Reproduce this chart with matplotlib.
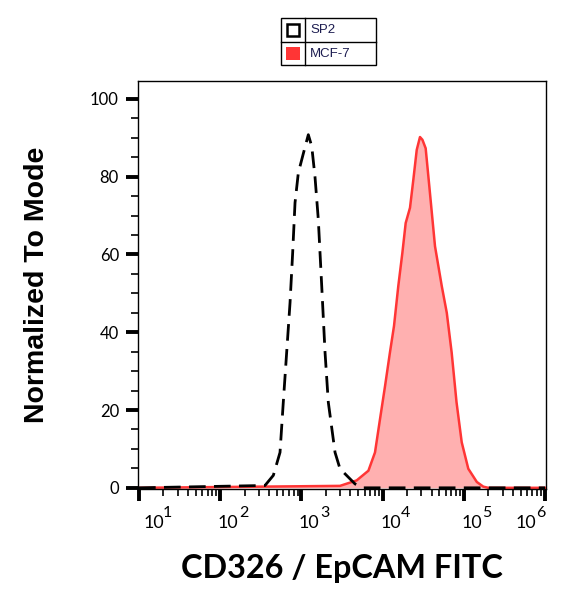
import matplotlib
matplotlib.use("Agg")
import matplotlib.pyplot as plt
import matplotlib.patches as mpatches
from matplotlib.ticker import MultipleLocator, LogLocator, NullFormatter

# histogram traces (x = fluorescence, y = % of mode)
sp2_x = [10, 356, 451, 545, 598, 658, 724, 780, 834, 916, 1057, 1216, 1340,
         1469, 1614, 1778, 1954, 2143, 2594, 2985, 4571, 5800, 1000000]
sp2_y = [0, 0.6, 3.2, 9.1, 22, 34.8, 47.6, 60.4, 73.3, 81, 86, 90.8, 87.8,
         80, 69, 51.9, 34.8, 22, 9.1, 4.9, 1.0, 0, 0]

mcf7_x = [10, 2985, 4786, 6683, 8054, 9290, 10715, 12303, 13804, 15596, 17498,
          19231, 21727, 23878, 26303, 28840, 30903, 33884, 37584, 44157, 53456,
          61660, 70795, 81283, 94189, 113501, 144544, 173780, 200000, 1000000]
mcf7_y = [0, 0.5, 1.9, 4.4, 9.1, 17.7, 26.2, 34.8, 41.6, 51.9, 60.4,
          68.1, 72, 79.2, 86.9, 90.2, 89.5, 87.3, 77.5, 62.1, 51.9,
          45, 34.8, 22, 11.7, 4.9, 1.5, 0.3, 0, 0]

series_names = ["SP2", "MCF-7"]
x_ticks = [1e1, 1e2, 1e3, 1e4, 1e5, 1e6]
x_tick_base = ["10", "10", "10", "10", "10", "10"]
x_tick_exp = ["1", "2", "3", "4", "5", "6"]
y_ticks = [0, 20, 40, 60, 80, 100]

fig = plt.figure(figsize=(5.66, 5.98), dpi=100)
ax = fig.add_axes([0.2433, 0.1823, 0.7214, 0.6822])

ax.fill_between(mcf7_x, mcf7_y, 0, color="#ffb0b0", lw=0)
ax.plot(mcf7_x, mcf7_y, color="#ff3535", lw=1.8)
ax.plot(sp2_x, sp2_y, color="black", lw=2.0, linestyle=(0, (6, 3)))

ax.set_xscale("log")
ax.set_xlim(10 ** 0.984, 10 ** 6.012)
ax.set_ylim(-0.3, 104.6)

ax.set_xticks(x_ticks)
ax.set_xticklabels([])
ax.xaxis.set_minor_locator(LogLocator(base=10, subs=range(2, 10), numticks=20))
ax.xaxis.set_minor_formatter(NullFormatter())
ax.set_yticks(y_ticks)
ax.yaxis.set_minor_locator(MultipleLocator(5))

for s in ax.spines.values():
    s.set_linewidth(1.0)

ax.tick_params(axis="both", which="major", length=8.5, width=2.8, direction="out")
ax.tick_params(axis="both", which="minor", length=5, width=1.2, direction="out")
ax.tick_params(axis="y", which="major", labelsize=12, pad=5)
for lab in ax.get_yticklabels():
    lab.set_family("Lato")

# flow-cytometry style decade labels, big exponent next to the base
px = 0.72  # points per pixel at 100 dpi
n = len(x_ticks)
for i, (xt, base, ex) in enumerate(zip(x_ticks, x_tick_base, x_tick_exp)):
    if i == 0:
        bx, ex_x, ha = 5, 23.5, "left"
    elif i == n - 1:
        bx, ex_x, ha = -8.5, 0, "right"
    else:
        bx, ex_x, ha = -2.5, 18.5, "left"
    ax.annotate(base, xy=(xt, 0), xycoords=("data", "axes fraction"),
                xytext=(bx * px, -39 * px), textcoords="offset points",
                ha=ha, va="baseline", fontsize=12.8, family="Lato",
                annotation_clip=False)
    ax.annotate(ex, xy=(xt, 0), xycoords=("data", "axes fraction"),
                xytext=(ex_x * px, -28 * px), textcoords="offset points",
                ha=ha, va="baseline", fontsize=11.5, family="Lato",
                annotation_clip=False)

ax.set_xlabel("CD326 / EpCAM FITC", fontsize=23.3, fontweight="bold", family="Lato", labelpad=35)
ax.set_ylabel("Normalized To Mode", fontsize=20.5, fontweight="bold",
              family="Liberation Sans", labelpad=28.5)

# boxed legend on top of the plot
lg = fig.add_axes([280 / 566, 1 - 65 / 598, 96 / 566, 48 / 598])
lg.set_xlim(0, 96)
lg.set_ylim(48, 0)
lg.axis("off")
lg.add_patch(mpatches.Rectangle((0.5, 0.5), 95, 47, fill=False, lw=1.0, ec="black", clip_on=False))
lg.plot([25, 25], [0.5, 47.5], color="black", lw=1.0, clip_on=False)
lg.plot([0.5, 95.5], [24.5, 24.5], color="black", lw=1.0, clip_on=False)
lg.add_patch(mpatches.Rectangle((6.5, 7), 12, 12, fill=False, lw=1.8, ec="black"))
lg.add_patch(mpatches.Rectangle((6, 29.5), 13.5, 13.5, fc="#ff3535", ec="none"))
for name, yc in zip(series_names, [13, 37]):
    lg.text(30, yc, name, fontsize=9.5, family="Liberation Sans", color="#1c1c50",
            va="center", ha="left")

fig.savefig("out.png", dpi=100)
